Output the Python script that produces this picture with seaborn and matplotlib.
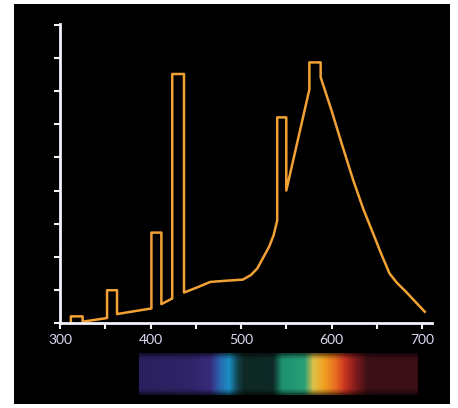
import numpy as np
import pandas as pd
import matplotlib
matplotlib.use("Agg")
import matplotlib.pyplot as plt
import seaborn as sns
from matplotlib.colors import to_rgb
from matplotlib.patches import Rectangle

# ---- data: emission spectrum path (wavelength nm, relative intensity) ----
wavelength = [312, 312, 325, 325, 352, 352, 363, 363, 401, 401, 412, 412,
              424, 424, 437, 437, 452, 466, 485, 502, 511, 518, 525, 531,
              536, 540, 540, 550, 550, 575.5, 575.5, 588, 588, 600, 612,
              624, 635, 646, 655, 664, 672, 682, 692, 703]
intensity = [0.0, 0.20, 0.20, 0.04, 0.15, 0.99, 0.99, 0.27, 0.44, 2.73, 2.73, 0.57,
             0.74, 7.52, 7.52, 0.92, 1.08, 1.24, 1.28, 1.31, 1.45, 1.65, 2.0, 2.3,
             2.65, 3.1, 6.21, 6.21, 4.0, 7.05, 7.87, 7.87, 7.42, 6.42, 5.35,
             4.31, 3.45, 2.70, 2.08, 1.50, 1.22, 0.95, 0.66, 0.34]
order = list(range(len(wavelength)))

x_ticks = [300, 400, 500, 600, 700]
x_minor = [350, 450, 550, 650]
y_ticks = list(range(0, 10))

# visible-spectrum strip colour stops (nm, colour)
spec_nm = [386, 440, 465, 476, 486, 496, 503, 535, 545, 570, 580, 592, 605, 615, 628, 640, 696]
spec_col = ["#2a2060", "#2e2466", "#382a7c", "#2a68b0", "#1a90c4", "#14404a", "#0e2824",
            "#0f2a26", "#1e9070", "#28a078", "#e0c048", "#f0a020", "#e86a20", "#c83420",
            "#7a1a1c", "#3c1016", "#3a0e14"]

df = pd.DataFrame({"wavelength": wavelength, "intensity": intensity, "order": order})

W, H = 458, 408
fig = plt.figure(figsize=(W / 100, H / 100), dpi=100)
fig.patch.set_facecolor("white")
fig.patches.append(Rectangle((14 / W, 4 / H), 436 / W, 400 / H, transform=fig.transFigure,
                             facecolor="black", edgecolor="none", zorder=-10))

ax = fig.add_axes([60 / W, 85 / H, 372 / W, 299 / H])
ax.set_facecolor("none")
ax.patch.set_alpha(0)
sns.lineplot(data=df, x="wavelength", y="intensity", sort=False, estimator=None,
             color="#f2a234", linewidth=1.8, ax=ax)
ax.set_xlim(300, 711)
ax.set_ylim(0, 9.03)
ax.set_xlabel("")
ax.set_ylabel("")
for s in ["top", "right"]:
    ax.spines[s].set_visible(False)
for s in ["left", "bottom"]:
    ax.spines[s].set_color("#f4f4ff")
    ax.spines[s].set_linewidth(2.0)
ax.set_xticks(x_ticks)
ax.set_xticklabels([str(v) for v in x_ticks])
ax.set_xticks(x_minor, minor=True)
ax.set_yticks(y_ticks)
ax.set_yticklabels([])
ax.tick_params(axis="x", which="both", colors="#f4f4ff", length=4, width=1.5, direction="out",
               labelcolor="#dcdcf5", labelsize=10, pad=4)
ax.tick_params(axis="y", colors="#f4f4ff", length=4, width=1.5, direction="out")
for t in ax.get_xticklabels():
    t.set_family(["Lato", "DejaVu Sans"])
ax.grid(False)

# spectrum strip
sax = fig.add_axes([139 / W, 13 / H, 279 / W, 42 / H])
xs = np.linspace(spec_nm[0], spec_nm[-1], 400)
rgb = np.array([to_rgb(c) for c in spec_col])
row = np.stack([np.interp(xs, spec_nm, rgb[:, k]) for k in range(3)], axis=-1)
nrow = 21
fade = np.ones(nrow)
fade[:3] = [0.45, 0.7, 0.9]
fade[-3:] = [0.9, 0.7, 0.45]
img = row[None, :, :] * fade[:, None, None]
sax.imshow(img, aspect="auto", interpolation="bilinear",
           extent=[spec_nm[0], spec_nm[-1], 0, 1])
sax.set_axis_off()

fig.savefig("out.png", dpi=100, facecolor="white")
